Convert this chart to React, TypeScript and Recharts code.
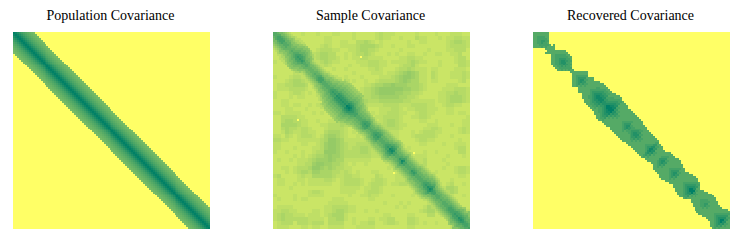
import React from "react";
import { ScatterChart, Scatter, XAxis, YAxis } from "recharts";

const gridSize = 100;
const panelTitles = ["Population Covariance", "Sample Covariance", "Recovered Covariance"];
const panelLefts = [13, 273, 533];

// population: shade by distance from the diagonal
const populationProfile = [1.0, 0.95, 0.88, 0.81, 0.75, 0.7, 0.66, 0.62, 0.59, 0.56, 0.53];

// sample: slow background, one hex char per 2x2 block, upper triangle only
const sampleField = [
  "5545555655 5655566555 6555556766 6555556555 5655566655",
  ".556555555 5556655555 6555556766 5565557665 5565667766",
  "..55556555 5556655665 5778765655 5555655665 5555678876",
  "...5555655 5567655666 6788887655 6555665555 5555677776",
  "....556555 5677766556 6788776555 5565555556 5555667775",
  ".....55555 6788775565 6778765556 5655665565 5665566755",
  "......5556 6788776565 6677666655 5566776655 5555556775",
  ".......556 6678766555 5666777665 6666787665 5565556776",
  "........55 5667655556 5566777665 5567786555 5565555776",
  ".........5 5555565565 5555667655 5677876665 6655556665",
  ".......... 5655555555 6555566656 6789a98665 7655566676",
  ".......... .556555565 5565555666 789aa98665 7655566676",
  ".......... ..55565555 6556556777 789a988665 6655555675",
  ".......... ...5555655 5556678899 a999888765 5555666555",
  ".......... ....555565 5567789aaa aaa9988765 5556667776",
  ".......... .....56555 5667789aaa a998877655 5566778776",
  ".......... ......5555 6677788999 9988776555 5566788876",
  ".......... .......565 6678777888 8887766666 6566788876",
  ".......... ........56 6777666677 7766677776 6556776655",
  ".......... .........5 6766555666 7765667776 6655665555",
  ".......... .......... 6655565667 7766556776 6555665665",
  ".......... .......... .655556677 7765566776 5555555556",
  ".......... .......... ..55555678 8765555665 5655555566",
  ".......... .......... ...5556678 8766555556 6655565566",
  ".......... .......... ....555677 7765555566 7765555676",
  ".......... .......... .....55566 6655565677 7665555676",
  ".......... .......... ......5555 5655567777 7655565555",
  ".......... .......... .......565 5555556776 6555555655",
  ".......... .......... ........55 5565555665 5556556665",
  ".......... .......... .........5 5555655555 5555556775",
  ".......... .......... .......... 5565555565 5655555775",
  ".......... .......... .......... .555656665 5555655565",
  ".......... .......... .......... ..55556675 5556555555",
  ".......... .......... .......... ...5556675 5555655555",
  ".......... .......... .......... ....555665 5556556776",
  ".......... .......... .......... .....55555 5655556776",
  ".......... .......... .......... ......5565 5555555665",
  ".......... .......... .......... .......555 6555565555",
  ".......... .......... .......... ........55 5555675565",
  ".......... .......... .......... .........5 5556887555",
  ".......... .......... .......... .......... 5555787555",
  ".......... .......... .......... .......... .555665565",
  ".......... .......... .......... .......... ..55555555",
  ".......... .......... .......... .......... ...5565555",
  ".......... .......... .......... .......... ....555655",
  ".......... .......... .......... .......... .....55556",
  ".......... .......... .......... .......... ......5565",
  ".......... .......... .......... .......... .......555",
  ".......... .......... .......... .......... ........55",
  ".......... .......... .......... .......... .........5",
].map((row) => row.replace(/ /g, ""));

// sample: cross-section of the ridge at each point along the diagonal, in hex
const sampleRidge = [
  "aa9887654", "aa9887654", "bba887654", "bba987654", "bba987654", "aa9987654", "aa99877654", "9998776544", "99887765544", "a9988776544",
  "aa998877654", "bba99887765", "cbba9988776", "cbba9988776", "cba99887765", "aa9988776544", "aa99877654", "a9987654", "99887654", "99887654",
  "99887654", "a9987654", "aa987654", "bba87654", "bba877654", "aa9877654", "aa99877654", "aa998776544", "aa9988776544", "bba99887765",
  "cbba9988776654", "cbba99887766544", "dccba998877665", "dccba998877665", "dccba998877665", "dccba998877665", "dccba998877665", "fedcba99887766", "fedcba99887766", "dccba998877654",
  "cbba998877654", "bba99887765", "aa99887765", "aa9988765", "aa9988765", "bba988765", "cbba98765", "cbba98765", "aa9987654", "aa9987654",
  "aa99887654", "bba9987654", "cbba987654", "cbba987654", "aa99877654", "aa99877654", "aa99877654", "bba9887654", "cbba987654", "edcba98765",
  "edcba98765", "bba9887654", "aa9987654", "aa9987654", "cba987654", "edba987654", "bba987654", "aa9987654", "aa9987654", "aa9987654",
  "cba987654", "cba9887654", "aa99877654", "aa99877654", "aa99887654", "aa99887654", "bba99877654", "cbba9887654", "dcba9987654", "edcba987654",
  "cba9887654", "bba987654", "aa9987654", "aa9987654", "a99887654", "a99887654", "aa9987654", "aa9987654", "aa9987654", "bba987654",
  "bba98765", "bba98765", "cbba9876", "cbba98876", "dcba9876", "dcba998776", "cba99877", "bba998", "baa9", "ba",
];

// sample: the few isolated light cells (row, col)
const sampleLightCells = [[12, 44], [61, 71]];

// recovered: last non-zero column of each row, and the one gap inside the neck
const recoveredRight = [
  7, 7, 7, 7, 7, 7, 10, 10, 10, 16,
  17, 18, 19, 19, 19, 19, 19, 19, 19, 20,
  27, 27, 27, 30, 30, 33, 35, 36, 37, 38,
  39, 41, 43, 44, 44, 45, 46, 47, 47, 49,
  50, 51, 52, 53, 54, 55, 55, 56, 57, 57,
  58, 59, 60, 61, 62, 63, 63, 64, 65, 65,
  66, 69, 70, 71, 73, 74, 74, 75, 75, 76,
  76, 78, 80, 82, 83, 83, 84, 84, 84, 84,
  86, 88, 90, 91, 92, 92, 93, 93, 94, 95,
  98, 99, 99, 99, 99, 99, 99, 99, 99, 99,
];
const recoveredGaps = [[6, 9]];

// recovered: cross-section of the shading at each point along the diagonal, in hex
const recoveredShade = [
  "a", "a", "ba", "bba", "cba", "bba", "ba", "a", "a", "a",
  "a", "ba", "bba", "cbba", "dcba", "dcba", "cbba", "bba", "ba", "a",
  "a", "a", "ba", "cba", "dcba", "cba", "ba", "a", "a", "ba",
  "cbba", "dcba", "edcba", "edcba", "edcba", "dcba", "dcbba", "fdcba", "fedcba", "fedcba",
  "dcba", "cba", "ba", "a", "a", "ba", "cba", "dcba", "cba", "bba",
  "cba", "dcba", "dcba", "cba", "ba", "a", "a", "ba", "cba", "edcba",
  "dcba", "ba", "a", "a", "cba", "dcba", "cba", "a", "a", "ba",
  "cba", "dcba", "cba", "a", "a", "a", "ba", "cba", "dcba", "fdcba",
  "fdcba", "cba", "ba", "a", "a", "ba", "bba", "cba", "ba", "a",
  "a", "a", "ba", "cba", "dcba", "fdcba", "dcba", "ba", "a", "a",
];

type Cell = { x: number; y: number; t: number };

function hexValue(ch: string | undefined) {
  return ch === undefined ? 0 : parseInt(ch, 16);
}

function populationValue(r: number, c: number) {
  return populationProfile[Math.abs(r - c)] ?? 0;
}

function sampleValue(r: number, c: number) {
  const lo = Math.min(r, c);
  const hi = Math.max(r, c);
  if (sampleLightCells.some(([a, b]) => a === lo && b === hi)) return 0;
  const field = hexValue(sampleField[lo >> 1]?.[hi >> 1] ?? "5") / 24;
  const ridge = hexValue(sampleRidge[(lo + hi) >> 1][hi - lo]) / 15;
  return Math.max(field, ridge);
}

function recoveredValue(r: number, c: number) {
  const lo = Math.min(r, c);
  const hi = Math.max(r, c);
  if (hi > recoveredRight[lo]) return 0;
  if (recoveredGaps.some(([a, b]) => a === lo && b === hi)) return 0;
  const shade = recoveredShade[(lo + hi) >> 1];
  return hexValue(shade[(hi - lo) >> 1] ?? "a") / 15;
}

function buildCells(value: (r: number, c: number) => number) {
  const cells: Cell[] = [];
  for (let r = 0; r < gridSize; r++) {
    for (let c = 0; c < gridSize; c++) {
      cells.push({ x: c + 0.5, y: r + 0.5, t: value(r, c) });
    }
  }
  return cells;
}

const panels = [buildCells(populationValue), buildCells(sampleValue), buildCells(recoveredValue)];

// reversed summer colormap
function shade(t: number) {
  return `rgb(${Math.round(255 * (1 - t))},${Math.round(255 - 127 * t)},102)`;
}

function CellRect(props: any) {
  return (
    <rect
      x={Math.round(props.cx - 1)}
      y={Math.round(props.cy - 1)}
      width={2}
      height={2}
      fill={shade(props.payload.t)}
      shapeRendering="crispEdges"
    />
  );
}

export default function App() {
  return (
    <div style={{ position: "absolute", left: 0, top: 0, width: 742, height: 240, background: "#fff" }}>
      {panels.map((cells, i) => (
        <div key={panelTitles[i]}>
          <div
            style={{
              position: "absolute",
              left: panelLefts[i] - 31,
              top: 8,
              width: 257,
              textAlign: "center",
              fontFamily: "'Liberation Serif', serif",
              fontSize: 14,
              lineHeight: "16px",
              color: "#000",
            }}
          >
            {panelTitles[i]}
          </div>
          <div style={{ position: "absolute", left: panelLefts[i], top: 32 }}>
            <ScatterChart width={197} height={197} margin={{ top: 0, right: 0, bottom: 0, left: 0 }}>
              <XAxis dataKey="x" type="number" domain={[0, gridSize]} hide />
              <YAxis dataKey="y" type="number" domain={[0, gridSize]} reversed hide />
              <Scatter data={cells} shape={CellRect} isAnimationActive={false} />
            </ScatterChart>
          </div>
        </div>
      ))}
    </div>
  );
}
